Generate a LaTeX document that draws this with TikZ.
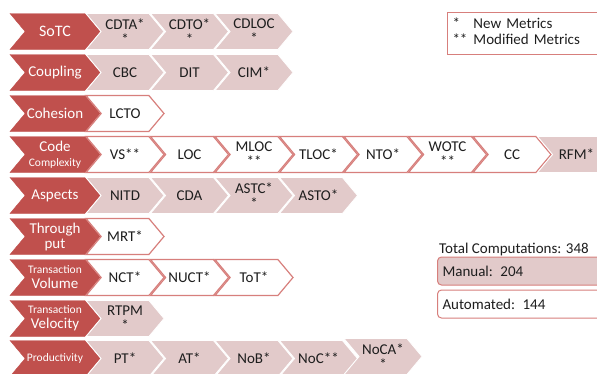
\documentclass[tikz,border=0pt]{standalone}
\usepackage{fontspec}
\setmainfont{Carlito}
\usetikzlibrary{positioning,shapes.symbols}

\definecolor{catred}{HTML}{C0504D}
\definecolor{metpink}{HTML}{E2CACA}
\definecolor{edgered}{HTML}{D77F7C}
\definecolor{inkdark}{HTML}{1E1E1E}

\begin{document}
\begin{tikzpicture}[x=1pt,y=-1pt,
  chev/.style={signal,signal from=west,signal to=east,signal pointer angle=100,
    minimum height=36pt,inner sep=0pt,align=center,font=\fontsize{15}{15}\selectfont},
  category/.style={chev,fill=catred,draw=catred,text=white,minimum width=90pt},
  newmet/.style={chev,fill=white,draw=edgered,line width=1.2pt,text=inkdark,minimum width=78pt},
  oldmet/.style={chev,fill=metpink,draw=white,line width=0.8pt,text=inkdark,minimum width=78pt},
  countbox/.style={rectangle,rounded corners=4pt,draw=edgered,line width=1pt,anchor=west,
    minimum width=170pt,minimum height=28pt,text width=160pt,align=left,inner sep=5pt,
    font=\fontsize{15}{16}\selectfont,text=inkdark},
  small/.style={font=\fontsize{11.5}{12}\selectfont},
]
\useasboundingbox (0,0) rectangle (597,373);

% Categories
\node[category,font=\fontsize{16}{17}\selectfont] (sotc) at (55,31.5) {SoTC};
\node[category] (coupling) at (55,72.5) {Coupling};
\node[category] (cohesion) at (55,113.5) {Cohesion};
\node[category] (complexity) at (55,154.5) {Code\\{\fontsize{11.5}{12}\selectfont Complexity}};
\node[category] (aspects) at (55,195.5) {Aspects};
\node[category] (throughput) at (55,236.5) {Through\\put};
\node[category] (volume) at (55,277.5) {{\fontsize{11.5}{12}\selectfont Transaction}\\Volume};
\node[category] (velocity) at (55,318.5) {{\fontsize{11.5}{12}\selectfont Transaction}\\Velocity};
\node[category,small] (productivity) at (55,358.5) {Productivity};

% SoTC metrics
\node[oldmet] (cdta) at (125,31.5) {CDTA*\\{*}};
\node[oldmet] (cdto) at (189.5,31.5) {CDTO*\\{*}};
\node[oldmet] (cdloc) at (254,31.5) {CDLOC\\{*}};

% Coupling metrics
\node[oldmet] (cbc) at (125,72.5) {CBC};
\node[oldmet] (dit) at (189.5,72.5) {DIT};
\node[oldmet] (cim) at (254,72.5) {CIM*};

% Cohesion metrics
\node[newmet] (lcto) at (125,113.5) {LCTO};

% Code complexity metrics
\node[newmet] (vs) at (125,154.5) {VS**};
\node[newmet] (loc) at (189.5,154.5) {LOC};
\node[newmet] (mloc) at (254,154.5) {MLOC\\{**}};
\node[newmet] (tloc) at (318.5,154.5) {TLOC*};
\node[newmet] (nto) at (383,154.5) {NTO*};
\node[newmet] (wotc) at (447.5,154.5) {WOTC\\{**}};
\node[newmet] (cc) at (512,154.5) {CC};
\node[oldmet] (rfm) at (576.5,154.5) {RFM*};

% Aspects metrics
\node[oldmet] (nitd) at (125,195.5) {NITD};
\node[oldmet] (cda) at (189.5,195.5) {CDA};
\node[oldmet] (astc) at (254,195.5) {ASTC*\\{*}};
\node[oldmet] (asto) at (318.5,195.5) {ASTO*};

% Throughput metrics
\node[newmet] (mrt) at (125,236.5) {MRT*};

% Transaction volume metrics
\node[newmet] (nct) at (125,277.5) {NCT*};
\node[newmet] (nuct) at (189.5,277.5) {NUCT*};
\node[newmet] (tot) at (254,277.5) {ToT*};

% Transaction velocity metrics
\node[oldmet] (rtpm) at (125,318.5) {RTPM\\{*}};

% Productivity metrics
\node[oldmet] (pt) at (125,358.5) {PT*};
\node[oldmet] (at) at (189.5,358.5) {AT*};
\node[oldmet] (nob) at (254,358.5) {NoB*};
\node[oldmet] (noc) at (318.5,358.5) {NoC**};
\node[oldmet] (noca) at (383,356.5) {NoCA*\\{*}};

% Legend
\node[rectangle,draw=edgered,line width=1pt,anchor=north west,minimum height=40pt,
  text width=150pt,align=left,inner sep=5pt,font=\fontsize{15}{16}\selectfont,text=inkdark] (legend) at (447,12)
  {\begin{tabular}{@{}p{18pt}@{\hspace{3pt}}l@{}}{*}&New Metrics\\{**}&Modified Metrics\end{tabular}};

% Totals
\node[anchor=west,inner sep=0pt,font=\fontsize{15}{16}\selectfont,text=inkdark] (total) at (439,249) {Total Computations: 348};
\node[countbox,fill=metpink] (manual) at (437,271) {Manual: 204};
\node[countbox,fill=white] (automated) at (437,304) {Automated: 144};

\end{tikzpicture}
\end{document}
